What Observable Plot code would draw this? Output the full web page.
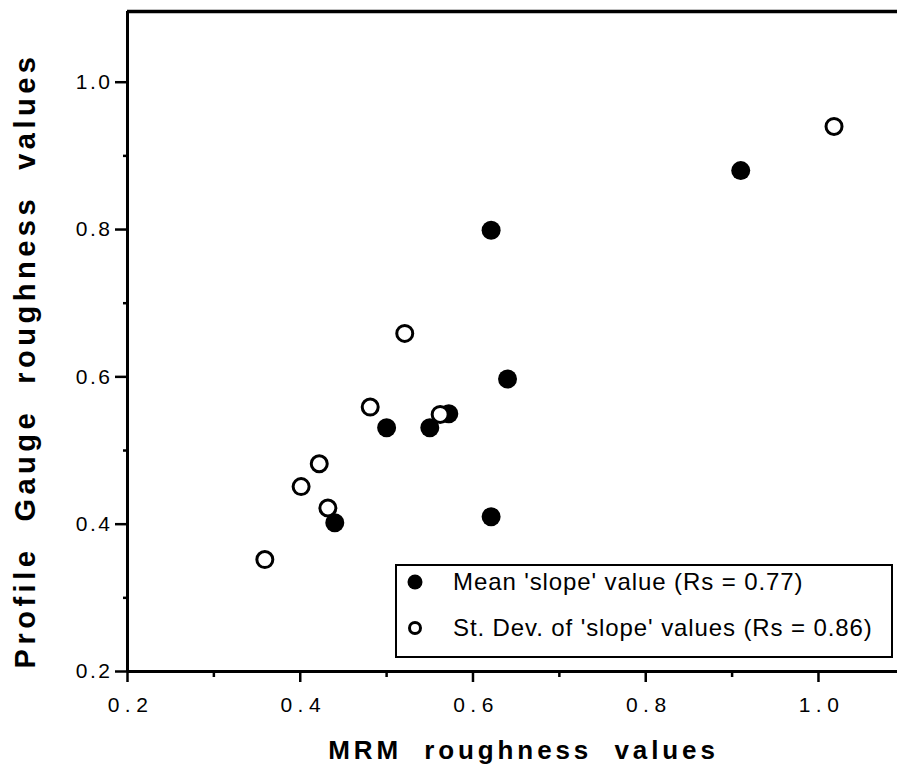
<!DOCTYPE html>
<html>
<head>
<meta charset="utf-8">
<script src="https://cdn.jsdelivr.net/npm/d3@7"></script>
<script src="https://cdn.jsdelivr.net/npm/@observablehq/plot@0.6"></script>
<style>
  html, body { margin: 0; padding: 0; background: #fff; }
  #chart { position: relative; width: 897px; height: 770px; }
  svg { font-family: "Liberation Sans", Arial, Helvetica, sans-serif; }
</style>
</head>
<body>
<div id="chart"></div>
<script>
// Mean 'slope' values (filled circles)
const meanMRM = [0.910, 0.621, 0.640, 0.621, 0.572, 0.550, 0.500, 0.440];
const meanPG  = [0.880, 0.799, 0.597, 0.410, 0.550, 0.531, 0.531, 0.402];
// St. Dev. of 'slope' values (open circles)
const sdMRM = [1.018, 0.521, 0.481, 0.562, 0.422, 0.401, 0.432, 0.359];
const sdPG  = [0.940, 0.659, 0.559, 0.549, 0.482, 0.451, 0.422, 0.352];

const majorTicks = [0.2, 0.4, 0.6, 0.8, 1.0];
const minorTicks = [0.3, 0.5, 0.7, 0.9];
const xLabel = "MRM  roughness  values";
const yLabel = "Profile  Gauge  roughness  values";
const legendLabels = ["Mean 'slope' value (Rs = 0.77)", "St. Dev. of 'slope' values (Rs = 0.86)"];

const xMax = 1.0915, yMax = 1.096;

const meanData = meanMRM.map((x, i) => ({x, y: meanPG[i]}));
const sdData = sdMRM.map((x, i) => ({x, y: sdPG[i]}));

const plot = Plot.plot({
  width: 897,
  height: 770,
  marginLeft: 127,
  marginRight: 0,
  marginTop: 11,
  marginBottom: 99,
  style: {fontFamily: "Liberation Sans, Arial, sans-serif", background: "#fff", color: "#000"},
  x: {domain: [0.2, xMax]},
  y: {domain: [0.2, yMax]},
  marks: [
    // minor ticks (no labels)
    Plot.axisX({ticks: minorTicks, tickSize: 6, strokeWidth: 2.5, label: null, text: null}),
    Plot.axisY({ticks: minorTicks, tickSize: 4, strokeWidth: 2.5, label: null, text: null}),
    // major ticks
    Plot.axisX({ticks: majorTicks, tickSize: 11, tickPadding: 15, tickFormat: d3.format(".1f"), strokeWidth: 2.5,
      fontSize: 20, label: null}),
    Plot.axisY({ticks: majorTicks, tickSize: 12, tickPadding: 3, tickFormat: d3.format(".1f"), strokeWidth: 2.5,
      fontSize: 20, label: null}),
    // frame: left, bottom, top
    Plot.ruleX([0.2], {strokeWidth: 3}),
    Plot.ruleY([0.2], {strokeWidth: 3}),
    Plot.ruleY([yMax], {strokeWidth: 3.5}),
    // data
    Plot.dot(meanData, {x: "x", y: "y", r: 9.5, fill: "#000", stroke: "none"}),
    Plot.dot(sdData, {x: "x", y: "y", r: 8, fill: "#fff", stroke: "#000", strokeWidth: 3}),
    // axis titles
    Plot.text([xLabel], {frameAnchor: "bottom", textAnchor: "middle", lineAnchor: "bottom", dx: 11, dy: 87,
      fontSize: 26, fontWeight: "bold", fill: "#000"}),
    Plot.text([yLabel], {frameAnchor: "left", textAnchor: "middle", lineAnchor: "bottom", rotate: -90, dx: -93, dy: 19,
      fontSize: 29, fontWeight: "bold", fill: "#000"})
  ]
});

document.getElementById("chart").appendChild(plot);

const svg = d3.select(plot);
// Typographic fine-tuning (letter spacing as in the original)
svg.selectAll('g[aria-label="x-axis tick label"] text').style("font-size", "21px").style("letter-spacing", "5.5px");
svg.selectAll('g[aria-label="x-axis tick label"]').each(function() {
  const g = d3.select(this);
  g.attr("transform", (g.attr("transform") || "") + " translate(3,0)");
});
svg.selectAll('g[aria-label="y-axis tick label"] text').style("font-size", "21px").style("letter-spacing", "2.5px");
svg.selectAll('g[aria-label="text"] text').each(function() {
  const t = d3.select(this);
  if (t.text() === xLabel) t.style("letter-spacing", "3.9px").style("white-space", "pre");
  if (t.text() === yLabel) t.style("letter-spacing", "4.5px").style("white-space", "pre");
});

// Legend box drawn inside the SVG
const lg = svg.append("g").attr("class", "legend");
lg.append("rect").attr("x", 396).attr("y", 565).attr("width", 496).attr("height", 92)
  .attr("fill", "#fff").attr("stroke", "#000").attr("stroke-width", 2);
lg.append("circle").attr("cx", 415).attr("cy", 582).attr("r", 7.5).attr("fill", "#000");
lg.append("circle").attr("cx", 415).attr("cy", 628).attr("r", 5.5).attr("fill", "#fff")
  .attr("stroke", "#000").attr("stroke-width", 3);
lg.selectAll("text.lt").data(legendLabels).join("text").attr("class", "lt")
  .attr("x", 453).attr("y", (d, i) => i === 0 ? 590 : 636)
  .attr("text-anchor", "start")
  .style("font-size", "24px").style("letter-spacing", "0.9px")
  .attr("fill", "#000")
  .attr("font-family", "Liberation Sans, Arial, sans-serif")
  .text(d => d);
</script>
</body>
</html>
